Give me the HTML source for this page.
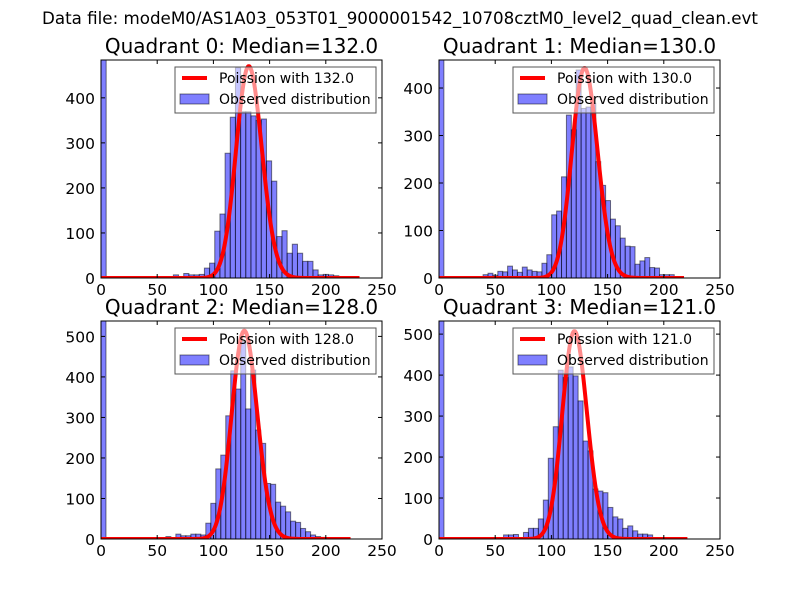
<!DOCTYPE html>
<html><head><meta charset="utf-8"><style>
html,body{margin:0;padding:0;background:#fff;}
svg{display:block;font-family:"DejaVu Sans","Liberation Sans",sans-serif;}
</style></head><body>
<svg id="fig" width="800" height="600" viewBox="0 0 800 600" xmlns="http://www.w3.org/2000/svg">
<rect width="800" height="600" fill="#fff"/>
<text x="400" y="24" text-anchor="middle" font-size="16.7">Data file: modeM0/AS1A03_053T01_9000001542_10708cztM0_level2_quad_clean.evt</text>
</svg>
<script>
const quadrantNames = ["Quadrant 0", "Quadrant 1", "Quadrant 2", "Quadrant 3"];
const medians = [132.0, 130.0, 128.0, 121.0];
const dataMax = [230, 218, 222, 221];
const yMaxes = [484, 459, 538, 532];
const poissonPeaks = [470, 442, 514, 507];
const xTicks = [0, 50, 100, 150, 200, 250];
const yTicks0 = [0, 100, 200, 300, 400];
const yTicks1 = [0, 100, 200, 300, 400];
const yTicks2 = [0, 100, 200, 300, 400, 500];
const yTicks3 = [0, 100, 200, 300, 400, 500];
const q0Counts = [484,0,0,0,0,0,0,0,0,0,0,0,0,0,7,0,10,7,7,8,22,33,104,142,277,357,467,369,369,360,350,353,260,215,92,105,55,75,55,37,37,18,7,8,7,5,0,0,0,0];
const q1Counts = [459,0,0,0,0,0,0,0,0,7,10,6,14,13,25,17,12,23,17,14,13,31,49,133,141,213,343,312,438,357,360,368,245,195,163,124,110,84,67,66,29,36,43,22,21,7,7,7,0,0];
const q2Counts = [538,0,0,0,0,0,0,0,0,0,0,0,0,6,3,12,8,8,12,12,10,39,88,173,207,304,415,370,487,321,417,269,236,137,135,91,81,67,44,41,26,18,10,6,4,0,0,0,0,0];
const q3Counts = [532,0,0,0,0,0,0,0,0,0,0,0,0,10,10,11,0,16,26,26,49,95,197,274,412,394,420,398,337,239,215,122,117,113,77,54,49,26,32,20,12,12,10,0,0,0,0,0,0,0];

const allCounts = [q0Counts, q1Counts, q2Counts, q3Counts];
const allYTicks = [yTicks0, yTicks1, yTicks2, yTicks3];
const NS = "http://www.w3.org/2000/svg";
const fig = document.getElementById("fig");
function mk(tag, attrs, parent){const e=document.createElementNS(NS,tag);for(const k in attrs)e.setAttribute(k,attrs[k]);(parent||fig).appendChild(e);return e;}
const layout = [[101,60],[439,60],[101,321],[439,321]];
const W = 281, H = 218, XMAX = 250;

function logFact(n){let s=0;for(let i=2;i<=n;i++)s+=Math.log(i);return s;}

for (let q=0;q<4;q++){
  const [L,T] = layout[q];
  const ymax = yMaxes[q];
  const xs = v => L + v/XMAX*W;
  const ys = v => T + H - v/ymax*H;
  const g = mk("g",{});
  
  
  const ti = mk("text",{x:L+W/2,y:T-7,"text-anchor":"middle","font-size":"20"},g);
  ti.textContent = quadrantNames[q] + ": Median=" + medians[q].toFixed(1);
  
  
  const clip = mk("clipPath",{id:"c"+q},g);
  mk("rect",{x:L,y:T,width:W,height:H},clip);
  const bars = mk("g",{"clip-path":"url(#c"+q+")"},g);
  const counts = allCounts[q];
  const bw = dataMax[q]/counts.length;
  counts.forEach((c,k)=>{
    if(c<=0) return;
    const r = mk("rect",{x:xs(k*bw),y:ys(c),width:xs((k+1)*bw)-xs(k*bw),height:ys(0)-ys(c),fill:"rgba(0,0,255,0.5)",stroke:"rgba(0,0,0,0.5)","stroke-width":"1"},bars);
    
    
  });
  const mu = medians[q];
  const peakLog = -mu + Math.floor(mu)*Math.log(mu) - logFact(Math.floor(mu));
  const pts=[];
  for(let x=0;x<=dataMax[q];x++){
    const lp = -mu + x*Math.log(mu) - logFact(x);
    const v = poissonPeaks[q]*Math.exp(lp-peakLog);
    pts.push(xs(x).toFixed(2)+","+ys(v).toFixed(2));
  }
  const pl = mk("polyline",{points:pts.join(" "),fill:"none",stroke:"#ff0000","stroke-width":"4","stroke-linejoin":"round"},bars);
  
  
  const fr = mk("rect",{x:L,y:T,width:W,height:H,fill:"none",stroke:"#000","stroke-width":"1"},g);
  
  
  xTicks.forEach(t=>{
    const x = xs(t);
    mk("line",{x1:x,y1:T+H,x2:x,y2:T+H-4,stroke:"#000"},g);
    mk("line",{x1:x,y1:T,x2:x,y2:T+4,stroke:"#000"},g);
    const tx = mk("text",{x:x,y:T+H+17,"text-anchor":"middle","font-size":"15.5"},g);
    tx.textContent = t;
    
    
  });
  allYTicks[q].forEach(t=>{
    const y = ys(t);
    mk("line",{x1:L,y1:y,x2:L+4,y2:y,stroke:"#000"},g);
    mk("line",{x1:L+W,y1:y,x2:L+W-4,y2:y,stroke:"#000"},g);
    const ty = mk("text",{x:L-6,y:y+6,"text-anchor":"end","font-size":"15.5"},g);
    ty.textContent = t;
    
    
  });
  const lg = mk("g",{},g);
  
  
  mk("rect",{x:L+74,y:T+7,width:201,height:46,fill:"rgba(255,255,255,0.55)",stroke:"#555","stroke-width":"1"},lg);
  mk("line",{x1:L+81,y1:T+18,x2:L+106,y2:T+18,stroke:"#ff0000","stroke-width":"4"},lg);
  const t1 = mk("text",{x:L+118,y:T+23,"font-size":"14"},lg);
  t1.textContent = "Poission with " + mu.toFixed(1);
  
  
  mk("rect",{x:L+79,y:T+34,width:29,height:10,fill:"rgba(0,0,255,0.5)",stroke:"rgba(0,0,0,0.5)"},lg);
  const t2 = mk("text",{x:L+118,y:T+44,"font-size":"14"},lg);
  t2.textContent = "Observed distribution";
  
  
}
</script>
</body></html>
